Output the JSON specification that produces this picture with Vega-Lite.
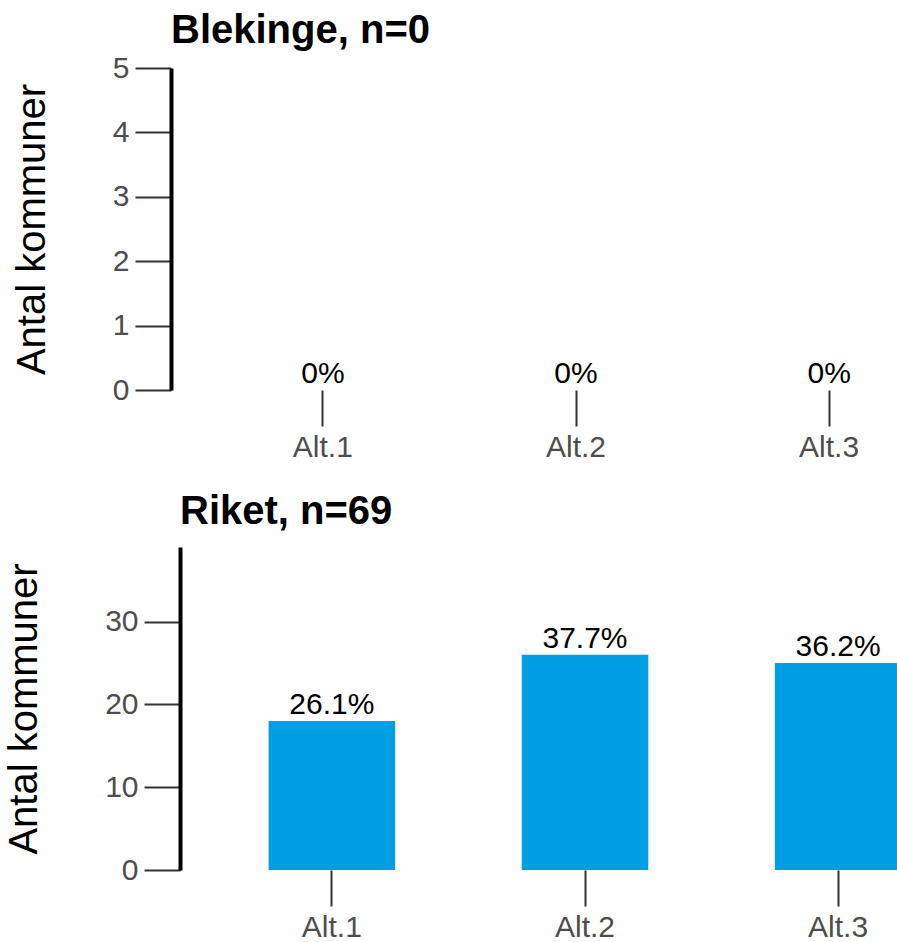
{
  "$schema": "https://vega.github.io/schema/vega-lite/v6.json",
  "padding": {"left": 1, "top": 11, "right": 0, "bottom": 0},
  "spacing": 30,
  "config": {
    "font": "Liberation Sans",
    "view": {"stroke": null},
    "axis": {
      "grid": false,
      "labelFont": "Liberation Sans",
      "labelFontSize": 30,
      "labelColor": "#4d4d4d",
      "tickColor": "#333333",
      "tickWidth": 2,
      "tickSize": 36,
      "labelPadding": 6,
      "titleFont": "Liberation Sans",
      "titleFontSize": 40,
      "titleFontWeight": "normal",
      "titleColor": "#000000"
    },
    "title": {
      "font": "Liberation Sans",
      "fontSize": 40,
      "fontWeight": "bold",
      "anchor": "start",
      "frame": "group",
      "color": "#000000",
      "baseline": "alphabetic"
    }
  },
  "data": {
    "values": [
      {"region": "Blekinge", "alt": "Alt.1", "antal": 0, "label": "0%"},
      {"region": "Blekinge", "alt": "Alt.2", "antal": 0, "label": "0%"},
      {"region": "Blekinge", "alt": "Alt.3", "antal": 0, "label": "0%"},
      {"region": "Riket", "alt": "Alt.1", "antal": 18, "label": "26.1%"},
      {"region": "Riket", "alt": "Alt.2", "antal": 26, "label": "37.7%"},
      {"region": "Riket", "alt": "Alt.3", "antal": 25, "label": "36.2%"}
    ]
  },
  "vconcat": [
    {
      "spacing": 10,
      "hconcat": [
        {
          "width": 1,
          "height": 1,
          "data": {"values": []},
          "mark": "point",
          "encoding": {}
        },
        {
          "title": {"text": "Blekinge, n=0", "offset": 2},
          "width": 810,
          "height": 322,
          "transform": [{"filter": "datum.region === 'Blekinge'"}],
          "encoding": {
            "x": {
              "field": "alt", "type": "nominal",
              "scale": {"paddingInner": 0.5, "paddingOuter": 0.35},
              "axis": {"title": null, "domain": false, "labelAngle": 0}
            },
            "y": {
              "field": "antal", "type": "quantitative",
              "scale": {"domain": [0, 5], "nice": false, "zero": true},
              "axis": {"title": "Antal kommuner", "values": [0, 1, 2, 3, 4, 5], "domain": true, "domainColor": "#000000", "domainWidth": 4, "titlePadding": 60}
            }
          },
          "layer": [
            {"mark": {"type": "bar", "color": "#009fe3"}},
            {"mark": {"type": "text", "baseline": "bottom", "dy": -1, "fontSize": 30, "color": "#000000", "font": "Liberation Sans"},
             "encoding": {"text": {"field": "label"}}}
          ]
        }
      ]
    },
    {
      "spacing": 2,
      "hconcat": [
        {
          "width": 1,
          "height": 1,
          "data": {"values": []},
          "mark": "point",
          "encoding": {}
        },
        {
          "title": {"text": "Riket, n=69", "offset": 15},
          "width": 810,
          "height": 323,
          "transform": [{"filter": "datum.region === 'Riket'"}],
          "encoding": {
            "x": {
              "field": "alt", "type": "nominal",
              "scale": {"paddingInner": 0.5, "paddingOuter": 0.35},
              "axis": {"title": null, "domain": false, "labelAngle": 0}
            },
            "y": {
              "field": "antal", "type": "quantitative",
              "scale": {"domain": [0, 39], "nice": false, "zero": true},
              "axis": {"title": "Antal kommuner", "values": [0, 10, 20, 30], "domain": true, "domainColor": "#000000", "domainWidth": 4, "titlePadding": 60}
            }
          },
          "layer": [
            {"mark": {"type": "bar", "color": "#009fe3"}},
            {"mark": {"type": "text", "baseline": "bottom", "dy": -1, "fontSize": 30, "color": "#000000", "font": "Liberation Sans"},
             "encoding": {"text": {"field": "label"}}}
          ]
        }
      ]
    }
  ]
}
